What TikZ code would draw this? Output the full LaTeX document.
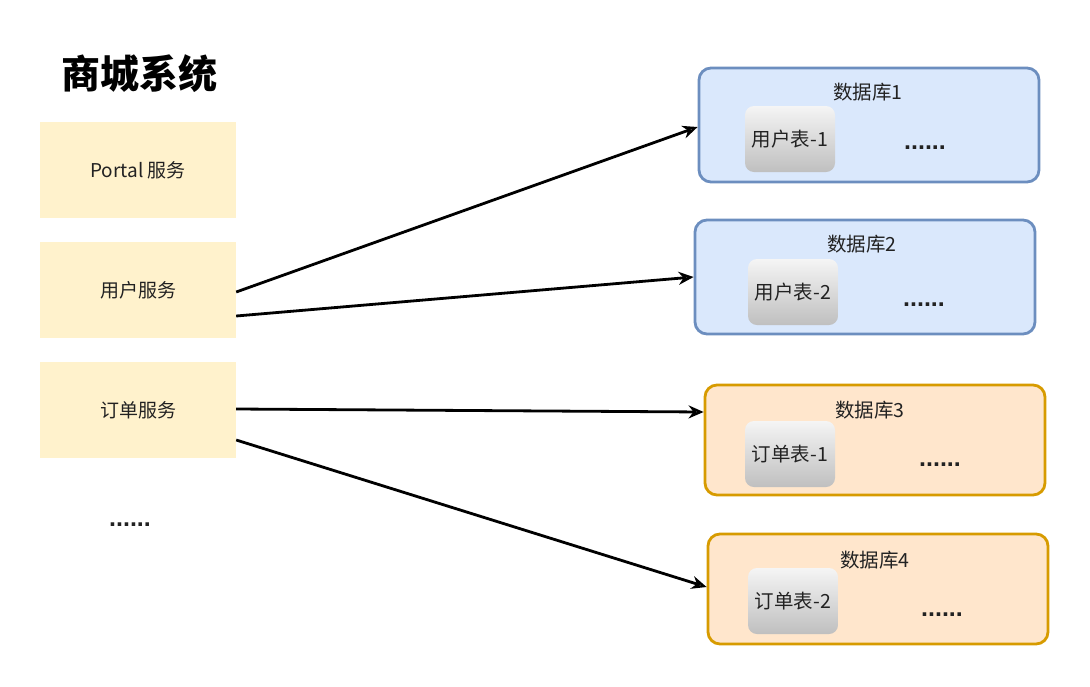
\documentclass[tikz,border=0pt]{standalone}
\usepackage{fontspec}
\setmainfont{Liberation Sans}
\newfontfamily\cjk{Noto Sans CJK SC}
\usetikzlibrary{arrows.meta,calc}
\definecolor{svcfill}{HTML}{FFF2CC}
\definecolor{bluefill}{HTML}{DAE8FC}
\definecolor{blueline}{HTML}{6C8EBF}
\definecolor{orfill}{HTML}{FFE6CC}
\definecolor{orline}{HTML}{D79B00}
\definecolor{txt}{HTML}{222222}
\tikzset{
  svc/.style={fill=svcfill, draw=none, minimum width=196pt, minimum height=96pt, font=\cjk\fontsize{19}{22}\selectfont, text=txt},
  bluedb/.style={fill=bluefill, draw=blueline, line width=2.8pt, rounded corners=12pt, minimum width=340pt, minimum height=114pt},
  ordb/.style={fill=orfill, draw=orline, line width=2.8pt, rounded corners=12pt, minimum width=340pt, minimum height=110pt},
  dbtitle/.style={font=\cjk\fontsize{19.5}{22}\selectfont, text=txt},
  tbl/.style={top color=gray!8, bottom color=gray!50, draw=none, rounded corners=9pt, minimum width=90pt, minimum height=66pt, font=\cjk\fontsize{19.5}{22}\selectfont, text=txt},
  dots/.style={font=\bfseries\fontsize{25}{26}\selectfont, text=txt},
  conn/.style={draw=black, line width=2.8pt, -{Stealth[length=15pt,width=13pt,open,line width=2.4pt]}},
}
\begin{document}
\begin{tikzpicture}[x=1pt,y=-1pt]
\useasboundingbox (0,0) rectangle (1090,686);
\node[font=\cjk\bfseries\fontsize{39}{44}\selectfont, text=black] (title) at (139,74) {商城系统};
\node[svc] (portal) at (138,170) {Portal 服务};
\node[svc] (user) at (138,290) {用户服务};
\node[svc] (order) at (138,410) {订单服务};
\node[dots] (sdots) at (130,525) {......};
% databases
\node[bluedb] (db1) at (869,125) {};
\node[dbtitle] (db1t) at (868,92) {数据库1};
\node[tbl] (t1) at (790,139) {用户表-1};
\node[dots] (d1) at (925,148) {......};

\node[bluedb] (db2) at (865,277) {};
\node[dbtitle] (db2t) at (862,244) {数据库2};
\node[tbl] (t2) at (793,292) {用户表-2};
\node[dots] (d2) at (924,305) {......};

\node[ordb] (db3) at (875,440) {};
\node[dbtitle] (db3t) at (870,410) {数据库3};
\node[tbl] (t3) at (790,454) {订单表-1};
\node[dots] (d3) at (940,465) {......};

\node[ordb] (db4) at (878,589) {};
\node[dbtitle] (db4t) at (875,560) {数据库4};
\node[tbl] (t4) at (793,601) {订单表-2};
\node[dots] (d4) at (942,615) {......};
% connectors
\draw[conn] ([yshift=-2pt]user.east) -- ([yshift=-2pt]db1.west);
\draw[conn] ([yshift=-26pt]user.east) -- (db2.west);
\draw[conn] ([yshift=1pt]order.east) -- ([yshift=28pt]db3.west);
\draw[conn] ([yshift=-30pt]order.east) -- ([yshift=2pt]db4.west);
\end{tikzpicture}
\end{document}
